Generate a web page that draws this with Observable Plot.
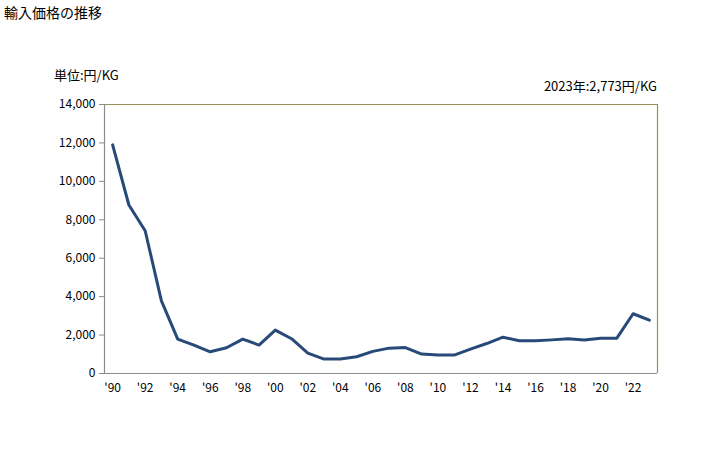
<!DOCTYPE html>
<html><head><meta charset="utf-8">
<script src="https://cdn.jsdelivr.net/npm/d3@7"></script>
<script src="https://cdn.jsdelivr.net/npm/@observablehq/plot@0.6"></script>
<style>
body{margin:0;background:#fff;font-family:"Noto Sans CJK JP",sans-serif;}
#wrap{position:relative;width:728px;height:450px;}
.t{position:absolute;font-size:13px;color:#000;white-space:nowrap;}
#chart{position:absolute;left:0;top:0;}
</style></head><body>
<div id="wrap">
<div class="t" id="title" style="left:4px;top:2px;font-size:14px;">輸入価格の推移</div>
<div class="t" style="left:54px;top:65px;">単位:円/KG</div>
<div class="t" style="right:71px;top:76px;">2023年:2,773円/KG</div>
<div id="chart"></div>
</div>
<script>
const years = [1990,1991,1992,1993,1994,1995,1996,1997,1998,1999,2000,2001,2002,2003,2004,2005,2006,2007,2008,2009,2010,2011,2012,2013,2014,2015,2016,2017,2018,2019,2020,2021,2022,2023];
const prices = [11900,8770,7430,3780,1790,1480,1130,1340,1790,1480,2260,1810,1060,750,750,870,1150,1320,1350,1010,960,960,1270,1560,1890,1700,1700,1750,1810,1740,1840,1840,3110,2773];
const yTicks = [0,2000,4000,6000,8000,10000,12000,14000];
const xTicks = [1990,1992,1994,1996,1998,2000,2002,2004,2006,2008,2010,2012,2014,2016,2018,2020,2022];

const data = years.map((y,i)=>({year:y, price:prices[i]}));

const chart = Plot.plot({
  width:728, height:400,
  marginLeft:104, marginRight:71, marginTop:104, marginBottom:27,
  style:{fontFamily:'"Noto Sans CJK JP",sans-serif', fontSize:"12px", color:"#000", background:"transparent"},
  x:{domain:[1989.5,2023.5], ticks:xTicks, tickFormat:d=>"'"+String(d).slice(2), tickSize:0, tickPadding:10, label:null},
  y:{domain:[0,14000], ticks:yTicks, tickFormat:d3.format(","), tickSize:5, tickPadding:4, label:null},
  marks:[
    Plot.ruleY([14000],{stroke:"#9c8f52", strokeWidth:1.2}),
    Plot.ruleX([2023.5],{stroke:"#9c8f52", strokeWidth:1.2}),
    Plot.ruleY([0],{stroke:"#8c8c8c", strokeWidth:1.2}),
    Plot.ruleX([1989.5],{stroke:"#8c8c8c", strokeWidth:1.2}),
    Plot.axisY({ticks:yTicks, tickFormat:d3.format(","), tickSize:5, tickPadding:4, stroke:"#8c8c8c", label:null}),
    Plot.axisX({ticks:xTicks, tickFormat:d=>"'"+String(d).slice(2), tickSize:0, tickPadding:10, label:null}),
    Plot.line(data,{x:"year", y:"price", stroke:"#284a78", strokeWidth:3, strokeLinejoin:"round"})
  ]
});
document.getElementById("chart").appendChild(chart);
</script>
</body></html>
